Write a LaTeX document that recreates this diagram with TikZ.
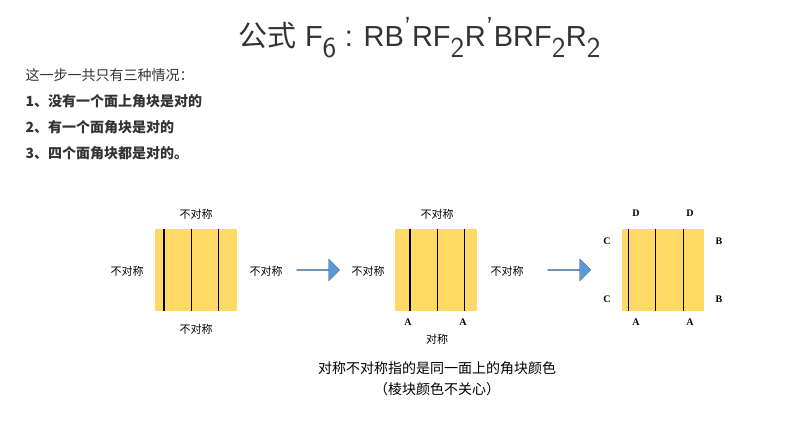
\documentclass[tikz,border=0pt]{standalone}
\usepackage{fontspec}
\setmainfont{Liberation Serif}
\newfontfamily\cjk{Noto Sans CJK SC}
\newfontfamily\sans{Liberation Sans}
\usetikzlibrary{shapes.arrows}
\definecolor{cell}{HTML}{FFD966}
\definecolor{arr}{HTML}{5B9BD5}
\definecolor{txt}{HTML}{333333}
\tikzset{
  lab/.style={font=\cjk\fontsize{11}{13}\selectfont},
  let/.style={font=\bfseries\fontsize{10}{12}\selectfont},
  bigarrow/.style={single arrow, fill=arr, draw=arr!70!black, minimum width=22pt, minimum height=43pt, single arrow head extend=5pt, inner sep=0pt},
  line/.style={font=\cjk\fontsize{14}{16}\selectfont, text=txt, anchor=west}
}
\newcommand{\cubegrid}[3]{%
  \fill[cell] (#1,#2) rectangle ++(82,82);
  \draw[line width=1.1pt] (#1,#2) grid[step=27.33] ++(82,82);
  \node[inner sep=0pt, minimum size=82pt] (#3) at (#1+41,#2+41) {};
}
\begin{document}
\begin{tikzpicture}[x=1pt,y=-1pt]
\useasboundingbox (0,0) rectangle (807,427);
\node[font=\sans\fontsize{29}{32}\selectfont, text=txt] (title) at (420,38)
 {{\cjk 公式} F$_{\textsf{6}}$ : RB$^{\textsf{'}}$RF$_{\textsf{2}}$R$^{\textsf{'}}$BRF$_{\textsf{2}}$R$_{\textsf{2}}$};
\node[line] (l0) at (22,75) {这一步一共只有三种情况：};
\node[line, font=\cjk\bfseries\fontsize{14}{16}\selectfont] (l1) at (22,101) {1、没有一个面上角块是对的};
\node[line, font=\cjk\bfseries\fontsize{14}{16}\selectfont] (l2) at (22,127) {2、有一个面角块是对的};
\node[line, font=\cjk\bfseries\fontsize{14}{16}\selectfont] (l3) at (22,153) {3、四个面角块都是对的。};
\cubegrid{155}{229}{g1}
\cubegrid{395}{229}{g2}
\cubegrid{622}{229}{g3}
\node[lab] (a1) at (196,214) {不对称};
\node[lab] (a2) at (196,329) {不对称};
\node[lab] (a3) at (127,271) {不对称};
\node[lab] (a4) at (266,271) {不对称};
\node[bigarrow] (ar1) at (318,270) {};
\node[lab] (b1) at (437,214) {不对称};
\node[lab] (b3) at (368,271) {不对称};
\node[lab] (b4) at (507,271) {不对称};
\node[let] (bA1) at (408,322) {A};
\node[let] (bA2) at (463,322) {A};
\node[lab] (b2) at (437,339) {对称};
\node[bigarrow] (ar2) at (569,270) {};
\node[let] (D1) at (636,213) {D};
\node[let] (D2) at (690,213) {D};
\node[let] (C1) at (607,241) {C};
\node[let] (C2) at (607,299) {C};
\node[let] (B1) at (719,241) {B};
\node[let] (B2) at (719,299) {B};
\node[let] (A1) at (636,322) {A};
\node[let] (A2) at (690,322) {A};
\node[font=\cjk\fontsize{14}{16}\selectfont] (c1) at (437,368) {对称不对称指的是同一面上的角块颜色};
\node[font=\cjk\fontsize{14}{16}\selectfont] (c2) at (437,389) {（棱块颜色不关心）};
\end{tikzpicture}
\end{document}
